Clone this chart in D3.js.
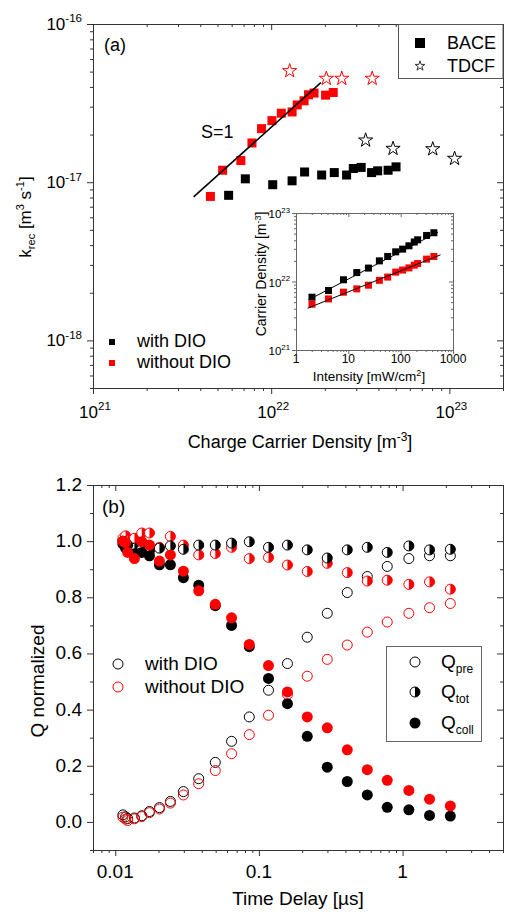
<!DOCTYPE html>
<html>
<head>
<meta charset="utf-8">
<script src="https://cdn.jsdelivr.net/npm/d3@7"></script>
<style>
  body { margin: 0; background: #fff; }
  text { font-family: Arial, "Liberation Sans", sans-serif; }
</style>
</head>
<body>
<div id="chart"></div>
<script>
// ---- panel (a): k_rec vs charge carrier density ----
const baceWithN = [5.77e21, 7.16e21, 1.02e22, 1.31e22, 1.54e22, 1.92e22, 2.26e22, 2.65e22, 2.89e22, 3.20e22, 3.66e22, 3.96e22, 4.53e22, 5.02e22];
const baceWithK = [8.26e-18, 1.05e-17, 9.64e-18, 1.02e-17, 1.16e-17, 1.11e-17, 1.15e-17, 1.11e-17, 1.22e-17, 1.24e-17, 1.15e-17, 1.18e-17, 1.19e-17, 1.25e-17];
const baceWithoutN = [4.56e21, 5.34e21, 6.76e21, 7.80e21, 8.83e21, 1.01e22, 1.14e22, 1.31e22, 1.40e22, 1.53e22, 1.62e22, 1.74e22, 2.02e22, 2.23e22];
const baceWithoutK = [8.13e-18, 1.19e-17, 1.37e-17, 1.77e-17, 2.18e-17, 2.45e-17, 2.73e-17, 2.78e-17, 3.08e-17, 3.27e-17, 3.57e-17, 3.66e-17, 3.55e-17, 3.69e-17];
const tdcfWithN = [3.39e22, 4.83e22, 8.07e22, 1.07e23];
const tdcfWithK = [1.84e-17, 1.63e-17, 1.62e-17, 1.41e-17];
const tdcfWithoutN = [1.27e22, 2.04e22, 2.49e22, 3.69e22];
const tdcfWithoutK = [5.05e-17, 4.52e-17, 4.52e-17, 4.52e-17];
const slopeN = [3.67e21, 1.90e22];
const slopeK = [8.07e-18, 4.26e-17];

// inset: carrier density vs intensity
const intensity = [2.02, 4.18, 8.07, 14.5, 24.2, 39.2, 56.5, 80.3, 109, 144, 182, 211, 313, 431];
const densWith = [5.9e21, 7.38e21, 1.06e22, 1.35e22, 1.57e22, 2.0e22, 2.32e22, 2.71e22, 2.97e22, 3.32e22, 3.77e22, 4.06e22, 4.7e22, 5.15e22];
const densWithout = [4.66e21, 5.57e21, 6.98e21, 7.8e21, 8.83e21, 1.04e22, 1.16e22, 1.37e22, 1.47e22, 1.58e22, 1.73e22, 1.83e22, 2.12e22, 2.32e22];
const fitWithI = [1.74, 520];
const fitWithD = [5.4e21, 5.27e22];
const fitWithoutI = [1.66, 578];
const fitWithoutD = [4.07e21, 2.45e22];

// ---- panel (b): normalized charge vs delay ----
const delay = [0.0113, 0.0118, 0.0122, 0.0136, 0.0153, 0.0173, 0.0203, 0.0242, 0.0298, 0.0381, 0.0497, 0.0645, 0.0857, 0.1166, 0.158, 0.217, 0.299, 0.412, 0.568, 0.782, 1.106, 1.54, 2.15];
const preWith = [0.025, 0.018, 0.012, 0.014, 0.022, 0.037, 0.051, 0.073, 0.108, 0.154, 0.212, 0.287, 0.374, 0.469, 0.564, 0.658, 0.743, 0.817, 0.874, 0.910, 0.938, 0.948, 0.948];
const totWith = [1.0, 0.99, 0.98, 0.975, 0.97, 0.965, 0.975, 0.983, 0.971, 0.986, 0.986, 0.993, 0.998, 0.978, 0.986, 0.969, 0.940, 0.969, 0.978, 0.960, 0.983, 0.969, 0.971];
const collWith = [0.99, 0.975, 0.985, 0.955, 0.96, 0.948, 0.916, 0.916, 0.870, 0.843, 0.77, 0.700, 0.624, 0.511, 0.421, 0.305, 0.195, 0.144, 0.096, 0.052, 0.043, 0.023, 0.021];
const preWithout = [0.017, 0.010, 0.005, 0.011, 0.019, 0.033, 0.046, 0.067, 0.096, 0.136, 0.183, 0.243, 0.311, 0.380, 0.454, 0.519, 0.579, 0.630, 0.676, 0.712, 0.743, 0.763, 0.778];
const totWithout = [1.01, 1.019, 1.0, 1.01, 1.029, 1.029, 0.978, 1.017, 0.986, 0.951, 0.956, 0.978, 0.938, 0.942, 0.915, 0.892, 0.921, 0.888, 0.858, 0.861, 0.846, 0.855, 0.829];
const collWithout = [1.0, 0.995, 0.96, 0.938, 0.998, 0.986, 0.929, 0.951, 0.893, 0.823, 0.775, 0.727, 0.632, 0.557, 0.463, 0.374, 0.335, 0.257, 0.186, 0.148, 0.112, 0.081, 0.057];

const qMajor = [0, 0.2, 0.4, 0.6, 0.8, 1.0, 1.2];
const qMinor = [-0.1, 0.1, 0.3, 0.5, 0.7, 0.9, 1.1];
const qLabels = ['0.0', '0.2', '0.4', '0.6', '0.8', '1.0', '1.2'];
const delayMajor = [0.01, 0.1, 1];
const delayLabels = ['0.01', '0.1', '1'];

const RED = '#ff0000', AX = '#333';

const svg = d3.select('#chart').append('svg')
  .attr('width', 505).attr('height', 912);

const zip = (a, b) => a.map((v, i) => [v, b[i]]);
const isDecade = v => Math.abs(Math.log10(v) - Math.round(Math.log10(v))) < 1e-6;

// box with ticks: bottom/left outward, top/right inward
function frame(x, y, xMaj, xMin, yMaj, yMin, big, small, color) {
  const g = svg.append('g');
  const [l, r] = x.range(), [b, t] = y.range();
  const sides = [
    [d3.axisBottom(x), `translate(0,${b})`, xMaj, xMin, 1],
    [d3.axisTop(x), `translate(0,${t})`, xMaj, xMin, -1],
    [d3.axisLeft(y), `translate(${l},0)`, yMaj, yMin, 1],
    [d3.axisRight(y), `translate(${r},0)`, yMaj, yMin, -1]
  ];
  sides.forEach(([ax, tr, maj, min, dir]) => {
    g.append('g').attr('transform', tr)
      .call(ax.tickValues(min).tickSize(small * dir).tickSizeOuter(0).tickFormat(''));
    g.append('g').attr('transform', tr)
      .call(ax.tickValues(maj).tickSize(big * dir).tickSizeOuter(0).tickFormat(''));
  });
  g.selectAll('path.domain').attr('stroke', color);
  g.selectAll('.tick line').attr('stroke', color);
  return g;
}

function text(x, y, size, anchor) {
  return svg.append('text').attr('x', x).attr('y', y)
    .attr('font-size', size).attr('text-anchor', anchor || 'start').attr('fill', '#000');
}

function pow10(t, exp, size) {
  t.append('tspan').text('10');
  t.append('tspan').attr('dy', -size * 0.45).attr('font-size', size * 0.68).text(exp);
}

// ================= panel (a) =================
const xA = d3.scaleLog().domain([1e21, 2e23]).range([93, 503]);
const yA = d3.scaleLog().domain([5e-19, 1e-16]).range([388, 24]);

const xAt = xA.ticks(), yAt = yA.ticks();
frame(xA, yA, xAt.filter(isDecade), xAt.filter(v => !isDecade(v)),
  yAt.filter(isDecade), yAt.filter(v => !isDecade(v)), 6, 3, AX);

xAt.filter(isDecade).forEach(v => pow10(text(xA(v) + 2, 418, 17, 'middle'), Math.round(Math.log10(v)), 17));
yAt.filter(isDecade).forEach(v => pow10(text(82, yA(v) + 6, 17, 'end'), Math.round(Math.log10(v)), 17));

const xTitleA = text(300, 448, 18, 'middle');
xTitleA.append('tspan').text('Charge Carrier Density [m');
xTitleA.append('tspan').attr('dy', -7).attr('font-size', 12).text('-3');
xTitleA.append('tspan').attr('dy', 7).text(']');

const yTitleA = svg.append('text').attr('font-size', 17).attr('text-anchor', 'middle')
  .attr('transform', 'translate(31,217) rotate(-90)');
yTitleA.append('tspan').text('k');
yTitleA.append('tspan').attr('dy', 4).attr('font-size', 11).text('rec');
yTitleA.append('tspan').attr('dy', -4).text(' [m');
yTitleA.append('tspan').attr('dy', -7).attr('font-size', 11).text('3');
yTitleA.append('tspan').attr('dy', 7).text(' s');
yTitleA.append('tspan').attr('dy', -7).attr('font-size', 11).text('-1');
yTitleA.append('tspan').attr('dy', 7).text(']');

text(104, 51, 18).text('(a)');
text(201, 138, 18).text('S=1');

function squares(g, x, y, pts, s, color) {
  g.selectAll(null).data(pts).enter().append('rect')
    .attr('x', d => x(d[0]) - s / 2).attr('y', d => y(d[1]) - s / 2)
    .attr('width', s).attr('height', s).attr('fill', color);
}
function stars(g, x, y, pts, size, color) {
  g.selectAll(null).data(pts).enter().append('path')
    .attr('d', d3.symbol(d3.symbolStar, size))
    .attr('transform', d => `translate(${x(d[0])},${y(d[1])})`)
    .attr('fill', '#fff').attr('stroke', color).attr('stroke-width', 1);
}

const gA = svg.append('g');
squares(gA, xA, yA, zip(baceWithN, baceWithK), 9, '#000');
squares(gA, xA, yA, zip(baceWithoutN, baceWithoutK), 9, RED);
stars(gA, xA, yA, zip(tdcfWithN, tdcfWithK), 62, '#000');
stars(gA, xA, yA, zip(tdcfWithoutN, tdcfWithoutK), 62, RED);

gA.append('path')
  .attr('d', d3.line().x(d => xA(d[0])).y(d => yA(d[1]))(zip(slopeN, slopeK)))
  .attr('stroke', '#000').attr('stroke-width', 1.5).attr('fill', 'none');

// legend top right
svg.append('rect').attr('x', 398.5).attr('y', 24.5).attr('width', 104.5).attr('height', 54)
  .attr('fill', '#fff').attr('stroke', '#555');
svg.append('rect').attr('x', 415).attr('y', 38).attr('width', 10).attr('height', 10).attr('fill', '#000');
text(447, 49, 18).text('BACE');
svg.append('path').attr('d', d3.symbol(d3.symbolStar, 30)).attr('transform', 'translate(420,66)')
  .attr('fill', '#fff').attr('stroke', '#333');
text(447, 72, 18).text('TDCF');

// legend bottom left
svg.append('rect').attr('x', 109).attr('y', 339).attr('width', 6).attr('height', 6).attr('fill', '#000');
text(137, 347, 18).text('with DIO');
svg.append('rect').attr('x', 109).attr('y', 360).attr('width', 6).attr('height', 6).attr('fill', RED);
text(137, 368, 18).text('without DIO');

// ---- inset ----
const xI = d3.scaleLog().domain([1, 1000]).range([296, 453]);
const yI = d3.scaleLog().domain([1e21, 1e23]).range([350, 213]);
svg.append('rect').attr('x', 296).attr('y', 213).attr('width', 157).attr('height', 137).attr('fill', '#fff');
const xIt = xI.ticks(), yIt = yI.ticks();
frame(xI, yI, xIt.filter(isDecade), xIt.filter(v => !isDecade(v)),
  yIt.filter(isDecade), yIt.filter(v => !isDecade(v)), 4, 2, '#666');

xIt.filter(isDecade).forEach(v => text(xI(v), 363, 12, 'middle').text(d3.format('d')(v)));
yIt.filter(isDecade).forEach(v => pow10(text(290, yI(v) + 5, 11.5, 'end'), Math.round(Math.log10(v)), 11.5));

const xTitleI = text(369, 381, 13.5, 'middle');
xTitleI.append('tspan').text('Intensity [mW/cm');
xTitleI.append('tspan').attr('dy', -5).attr('font-size', 9).text('2');
xTitleI.append('tspan').attr('dy', 5).text(']');

const yTitleI = svg.append('text').attr('font-size', 14).attr('text-anchor', 'middle')
  .attr('transform', 'translate(266,274) rotate(-90)');
yTitleI.append('tspan').text('Carrier Density [m');
yTitleI.append('tspan').attr('dy', -5).attr('font-size', 9).text('-3');
yTitleI.append('tspan').attr('dy', 5).text(']');

const gI = svg.append('g');
squares(gI, xI, yI, zip(intensity, densWith), 7, '#000');
squares(gI, xI, yI, zip(intensity, densWithout), 7, RED);
const lineI = d3.line().x(d => xI(d[0])).y(d => yI(d[1]));
gI.append('path').attr('d', lineI(zip(fitWithI, fitWithD))).attr('stroke', '#000').attr('fill', 'none');
gI.append('path').attr('d', lineI(zip(fitWithoutI, fitWithoutD))).attr('stroke', '#000').attr('fill', 'none');

// ================= panel (b) =================
const xB = d3.scaleLog().domain([0.007, 5]).range([93, 503]);
const yB = d3.scaleLinear().domain([-0.1, 1.2]).range([850, 485]);

const xBt = xB.ticks();
frame(xB, yB, delayMajor, xBt.filter(v => !isDecade(v)), qMajor, qMinor, 6, 3, AX);

delayMajor.forEach((v, i) => text(xB(v), 878, 19, 'middle').text(delayLabels[i]));
qMajor.forEach((v, i) => text(82, yB(v) + 6, 19, 'end').text(qLabels[i]));

text(298, 905, 19, 'middle').text('Time Delay [µs]');
svg.append('text').attr('font-size', 19).attr('text-anchor', 'middle')
  .attr('transform', 'translate(44,681) rotate(-90)').text('Q normalized');
text(102, 513, 19).text('(b)');

const R = 5;
const halfArc = d3.arc()({ innerRadius: 0, outerRadius: R, startAngle: 0, endAngle: Math.PI });

function openCircles(g, pts, color) {
  g.selectAll(null).data(pts).enter().append('circle')
    .attr('cx', d => xB(d[0])).attr('cy', d => yB(d[1])).attr('r', R)
    .attr('fill', 'none').attr('stroke', color);
}
function fullCircles(g, pts, color) {
  g.selectAll(null).data(pts).enter().append('circle')
    .attr('cx', d => xB(d[0])).attr('cy', d => yB(d[1])).attr('r', R + 0.5)
    .attr('fill', color);
}
function halfCircles(g, pts, color) {
  const s = g.selectAll(null).data(pts).enter().append('g')
    .attr('transform', d => `translate(${xB(d[0])},${yB(d[1])})`);
  s.append('circle').attr('r', R).attr('fill', '#fff').attr('stroke', color);
  s.append('path').attr('d', halfArc).attr('fill', color);
}

const gB = svg.append('g');
openCircles(gB, zip(delay, preWith), '#000');
openCircles(gB, zip(delay, preWithout), RED);
halfCircles(gB, zip(delay, totWithout), RED);
halfCircles(gB, zip(delay, totWith), '#000');
fullCircles(gB, zip(delay, collWith), '#000');
fullCircles(gB, zip(delay, collWithout), RED);

// legend left
svg.append('circle').attr('cx', 118).attr('cy', 664).attr('r', R).attr('fill', 'none').attr('stroke', '#000');
text(145, 670, 19).text('with DIO');
svg.append('circle').attr('cx', 118).attr('cy', 687).attr('r', R).attr('fill', 'none').attr('stroke', RED);
text(145, 693, 19).text('without DIO');

// legend right
svg.append('rect').attr('x', 386.5).attr('y', 646.5).attr('width', 95).attr('height', 95)
  .attr('fill', '#fff').attr('stroke', '#666');
const lg = svg.append('g');
lg.append('circle').attr('cx', 415).attr('cy', 662).attr('r', R).attr('fill', 'none').attr('stroke', '#000');
const hs = lg.append('g').attr('transform', 'translate(415,692)');
hs.append('circle').attr('r', R).attr('fill', '#fff').attr('stroke', '#000');
hs.append('path').attr('d', halfArc).attr('fill', '#000');
lg.append('circle').attr('cx', 415).attr('cy', 723).attr('r', R + 0.5).attr('fill', '#000');

[['pre', 668], ['tot', 698], ['coll', 729]].forEach(([sub, yy]) => {
  const t = text(441, yy, 19);
  t.append('tspan').text('Q');
  t.append('tspan').attr('dy', 5).attr('font-size', 12).text(sub);
});
</script>
</body>
</html>
